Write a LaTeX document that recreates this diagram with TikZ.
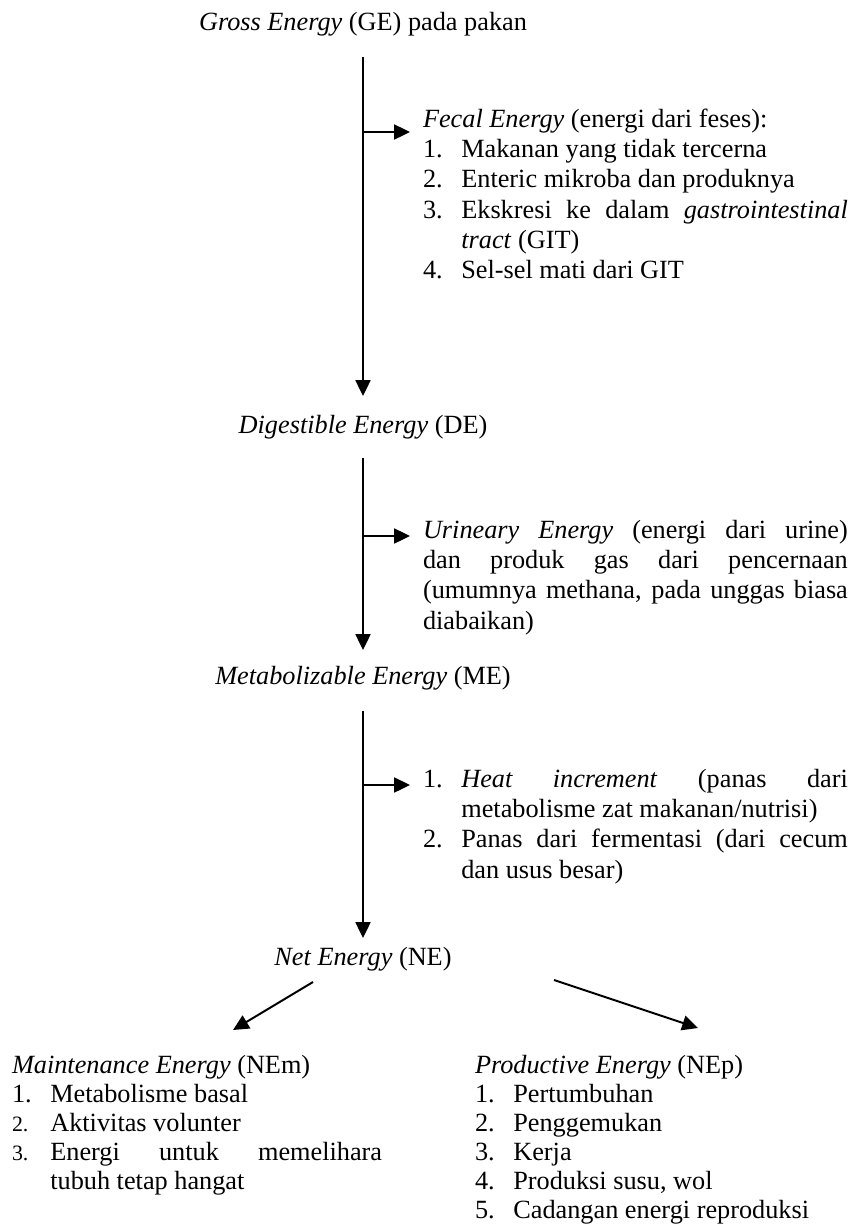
\documentclass[tikz,border=0pt]{standalone}
\usepackage{fontspec}
\setmainfont{Liberation Serif}
\usetikzlibrary{arrows.meta,calc}
\tolerance=10000
\hyphenpenalty=10000
\exhyphenpenalty=10000
\hbadness=10000
\newcommand{\itm}[2]{\hangindent=17.5pt\hangafter=1\noindent\makebox[17.5pt][l]{#1}#2}
\newcommand{\smn}[1]{{\fontsize{10pt}{10pt}\selectfont #1}}
\begin{document}
\begin{tikzpicture}[x=0.4566pt,y=-0.4566pt,
  every node/.style={inner sep=0pt,outer sep=0pt,font=\fontsize{12pt}{13.85pt}\selectfont},
  lvl/.style={anchor=base},
  blk/.style={anchor=base west,text width=194pt,align=justify},
  blkb/.style={anchor=base west,text width=169pt,align=justify,font=\fontsize{12pt}{13.3pt}\selectfont},
  arr/.style={line width=0.9pt,-{Triangle[length=7.2pt,width=6.8pt]}}]
\useasboundingbox (0,0) rectangle (852,1231);

\node[lvl] (ge) at (363,30) {\textit{Gross Energy} (GE) pada pakan};
\node[blk] (fecal) at (423,127) {\textit{Fecal Energy} (energi dari feses):\par
\itm{1.}{Makanan yang tidak tercerna}\par
\itm{2.}{Enteric mikroba dan produknya}\par
\itm{3.}{Ekskresi ke dalam \textit{gastrointestinal}\linebreak \textit{tract} (GIT)}\par
\itm{4.}{Sel-sel mati dari GIT}\par};

\node[lvl] (de) at (363,433) {\textit{Digestible Energy} (DE)};
\node[blk] (urine) at (423,538) {\textit{Urineary Energy} (energi dari urine)\linebreak
dan produk gas dari pencernaan\linebreak
(umumnya methana, pada unggas biasa\linebreak
diabaikan)\par};

\node[lvl] (me) at (363,684) {\textit{Metabolizable Energy} (ME)};
\node[blk] (heat) at (423,787) {\itm{1.}{\textit{Heat increment} (panas dari\linebreak metabolisme zat makanan/nutrisi)}\par
\itm{2.}{Panas dari fermentasi (dari cecum\linebreak dan usus besar)}\par};

\node[lvl] (ne) at (363,965) {\textit{Net Energy} (NE)};

\node[blkb] (maint) at (12,1073) {\textit{Maintenance Energy} (NEm)\par
\itm{1.}{Metabolisme basal}\par
\itm{\smn{2.}}{Aktivitas volunter}\par
\itm{\smn{3.}}{Energi untuk memelihara\linebreak tubuh tetap hangat}\par};

\node[blkb] (prod) at (475,1073) {\textit{Productive Energy} (NEp)\par
\itm{1.}{Pertumbuhan}\par
\itm{2.}{Penggemukan}\par
\itm{3.}{Kerja}\par
\itm{4.}{Produksi susu, wol}\par
\itm{5.}{Cadangan energi reproduksi}\par};

% main vertical flow
\draw[arr] ($(ge.base)+(0,27)$) -- ($(de.base)+(0,-37)$);
\draw[arr] ($(de.base)+(0,25)$) -- ($(me.base)+(0,-34)$);
\draw[arr] ($(me.base)+(0,27)$) -- ($(ne.base)+(0,-27)$);

% side branches
\draw[arr] ($(ge.base)+(0,102)$) -- ($(fecal.base west)+(-13,5)$);
\draw[arr] ($(de.base)+(0,103)$) -- ($(urine.base west)+(-13,-2)$);
\draw[arr] ($(me.base)+(0,101)$) -- ($(heat.base west)+(-13,-2)$);

% split of net energy
\coordinate (nel) at ($(ne.base)+(-50,17)$);
\coordinate (ner) at ($(ne.base)+(191,15)$);
\draw[arr] (nel) -- ($(maint.base west)+(221,-43)$);
\draw[arr] (ner) -- ($(prod.base west)+(223,-45)$);
\end{tikzpicture}
\end{document}
